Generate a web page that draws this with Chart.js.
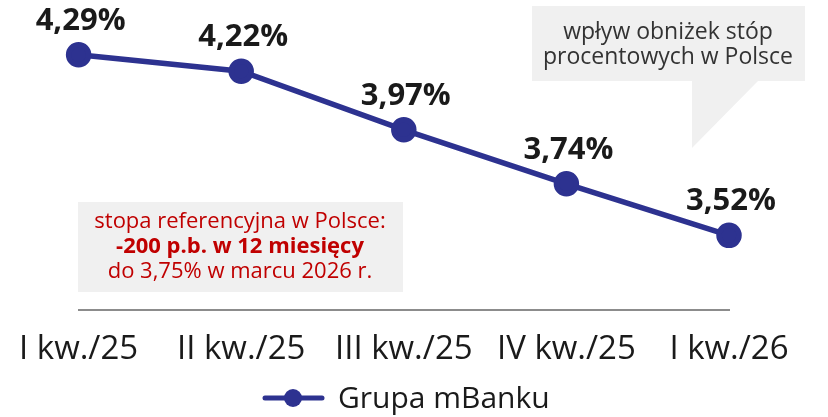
<!DOCTYPE html>
<html lang="pl">
<head>
    <meta charset="UTF-8">
    <title>Grupa mBanku</title>
    <script src="https://cdn.jsdelivr.net/npm/chart.js@4.4.1/dist/chart.umd.min.js"></script>
    <style>
        html, body { margin: 0; padding: 0; background: #fff; }
        .chart-container { width: 828px; height: 417px; position: relative; }
    </style>
</head>
<body>
    <div class="chart-container">
        <canvas id="nimChart"></canvas>
    </div>

    <script>
        // dane z wykresu
        const quarters = ['I kw./25', 'II kw./25', 'III kw./25', 'IV kw./25', 'I kw./26'];
        const nimValues = [4.29, 4.22, 3.97, 3.74, 3.52];
        const seriesName = 'Grupa mBanku';
        const refRateNote = ['stopa referencyjna w Polsce:', '-200 p.b. w 12 miesięcy', 'do 3,75% w marcu 2026 r.'];
        const bubbleNote = ['wpływ obniżek stóp', 'procentowych w Polsce'];

        const FONT = "'Open Sans', sans-serif";
        const NAVY = '#2d3290';
        const TEXT = '#1a1a1a';

        Chart.defaults.font.family = FONT;

        const fmt = v => v.toFixed(2).replace('.', ',') + '%';

        // etykiety wartości nad punktami
        const valueLabels = {
            id: 'valueLabels',
            afterDatasetsDraw(chart) {
                const ctx = chart.ctx;
                const meta = chart.getDatasetMeta(0);
                ctx.save();
                ctx.font = `bold 31px ${FONT}`;
                ctx.fillStyle = TEXT;
                ctx.textAlign = 'center';
                ctx.textBaseline = 'alphabetic';
                meta.data.forEach((pt, i) => {
                    ctx.fillText(fmt(nimValues[i]), pt.x + 2, pt.y - 25);
                });
                ctx.restore();
            }
        };

        // ramki z komentarzem + legenda
        const notes = {
            id: 'notes',
            beforeDraw(chart) {
                const ctx = chart.ctx;
                ctx.save();
                // szara ramka po lewej
                ctx.fillStyle = '#f0f0f0';
                ctx.fillRect(78, 202, 325, 90);
                ctx.textAlign = 'center';
                ctx.textBaseline = 'middle';
                ctx.fillStyle = '#c00000';
                ctx.font = `22px ${FONT}`;
                ctx.fillText(refRateNote[0], 240, 222);
                ctx.font = `bold 22px ${FONT}`;
                ctx.fillText(refRateNote[1], 240, 247);
                ctx.font = `22px ${FONT}`;
                ctx.fillText(refRateNote[2], 240, 272);

                // dymek w prawym górnym rogu
                ctx.fillStyle = '#f0f0f0';
                ctx.beginPath();
                ctx.moveTo(532, 6);
                ctx.lineTo(805, 6);
                ctx.lineTo(805, 81);
                ctx.lineTo(758, 81);
                ctx.lineTo(692, 148);
                ctx.lineTo(692, 81);
                ctx.lineTo(532, 81);
                ctx.closePath();
                ctx.fill();
                ctx.fillStyle = '#333';
                ctx.font = `23px ${FONT}`;
                ctx.fillText(bubbleNote[0], 668, 32);
                ctx.fillText(bubbleNote[1], 668, 57);
                ctx.restore();
            },
            afterDraw(chart) {
                const ctx = chart.ctx;
                const ds = chart.data.datasets[0];
                ctx.save();
                ctx.strokeStyle = ds.borderColor;
                ctx.lineWidth = 5;
                ctx.lineCap = 'round';
                ctx.beginPath();
                ctx.moveTo(265, 398);
                ctx.lineTo(322, 398);
                ctx.stroke();
                ctx.fillStyle = ds.pointBackgroundColor;
                ctx.beginPath();
                ctx.arc(293, 398, 9, 0, Math.PI * 2);
                ctx.fill();
                ctx.fillStyle = TEXT;
                ctx.font = `30px ${FONT}`;
                ctx.textAlign = 'left';
                ctx.textBaseline = 'middle';
                ctx.fillText(ds.label, 338, 399);
                ctx.restore();
            }
        };

        new Chart(document.getElementById('nimChart').getContext('2d'), {
            type: 'line',
            data: {
                labels: quarters,
                datasets: [{
                    label: seriesName,
                    data: nimValues,
                    borderColor: NAVY,
                    backgroundColor: NAVY,
                    pointBackgroundColor: NAVY,
                    pointBorderColor: NAVY,
                    borderWidth: 5.5,
                    pointRadius: 10,
                    pointHoverRadius: 10,
                    tension: 0
                }]
            },
            options: {
                responsive: true,
                maintainAspectRatio: false,
                animation: false,
                layout: { padding: { left: 78, right: 99, top: 29, bottom: 29 } },
                scales: {
                    x: {
                        grid: { display: false, drawTicks: false, tickLength: 0 },
                        border: { display: true, color: '#8c8c8c', width: 2 },
                        ticks: {
                            font: { size: 33 },
                            color: TEXT,
                            padding: 19,
                            maxRotation: 0,
                            autoSkip: false
                        }
                    },
                    y: {
                        display: false,
                        min: 3.2,
                        max: 4.4
                    }
                },
                plugins: {
                    legend: { display: false },
                    tooltip: { enabled: false }
                }
            },
            plugins: [notes, valueLabels]
        });
    </script>
</body>
</html>
